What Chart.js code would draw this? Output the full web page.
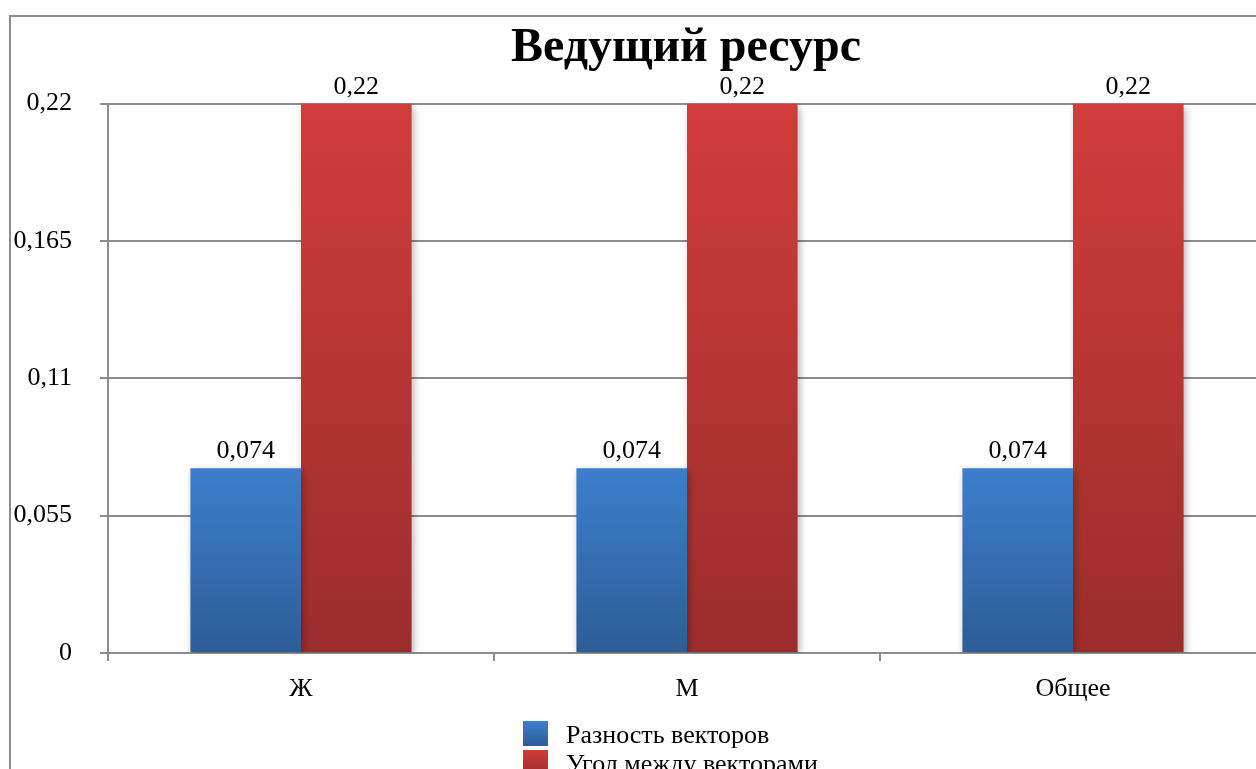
<!DOCTYPE html>
<html lang="ru">
<head>
<meta charset="utf-8">
<title>Ведущий ресурс</title>
<script src="https://cdn.jsdelivr.net/npm/chart.js@4/dist/chart.umd.min.js"></script>
<style>
  html, body { margin: 0; padding: 0; background: #fff; overflow: hidden; }
  #frame {
    position: absolute; left: 9px; top: 15px;
    border-left: 2px solid #8c8c8c; border-top: 2px solid #8c8c8c;
    width: 1350px; height: 800px;
  }
  canvas { display: block; }
</style>
</head>
<body>
<div id="frame"><canvas id="chart" width="1350" height="800"></canvas></div>
<script>
// Categories and series
const categories = ['Ж', 'М', 'Общее'];
const seriesNames = ['Разность векторов', 'Угол между векторами'];
const differenceValues = [0.074, 0.074, 0.074];
const angleValues = [0.22, 0.22, 0.22];
const yTickValues = [0, 0.055, 0.11, 0.165, 0.22];
const yTickLabels = ['0', '0,055', '0,11', '0,165', '0,22'];

const FONT = "'Liberation Serif', 'Times New Roman', serif";
const GRID = '#8c8c8c';

// Vertical gradient stops for each series (top, bottom)
const palettes = [
  ['#3c7fcd', '#2d5d96'],
  ['#d03d3a', '#9a2d2c']
];

function barGradient(ctx, index) {
  const chart = ctx.chart;
  const y = chart.scales.y;
  if (!y || !chart.chartArea || ctx.type !== 'data') return palettes[index][0];
  const top = y.getPixelForValue(ctx.raw);
  const bottom = y.getPixelForValue(0);
  if (!isFinite(top) || !isFinite(bottom) || top === bottom) return palettes[index][0];
  const g = chart.ctx.createLinearGradient(0, top, 0, bottom);
  g.addColorStop(0, palettes[index][0]);
  g.addColorStop(1, palettes[index][1]);
  return g;
}

const fmt = v => String(v).replace('.', ',');

// Soft drop shadow under the bars
const barShadow = {
  id: 'barShadow',
  beforeDatasetsDraw(chart) {
    const c = chart.ctx;
    c.save();
    c.shadowColor = 'rgba(0,0,0,0.28)';
    c.shadowBlur = 7;
    c.shadowOffsetX = 2;
    c.shadowOffsetY = 3;
  },
  afterDatasetsDraw(chart) {
    chart.ctx.restore();
  }
};

// Value captions above every bar
const valueLabels = {
  id: 'valueLabels',
  afterDatasetsDraw(chart) {
    const c = chart.ctx;
    c.save();
    c.shadowColor = 'transparent';
    c.font = '26px ' + FONT;
    c.fillStyle = '#000';
    c.textAlign = 'center';
    c.textBaseline = 'alphabetic';
    chart.data.datasets.forEach((ds, i) => {
      chart.getDatasetMeta(i).data.forEach((bar, j) => {
        c.fillText(fmt(ds.data[j]), bar.x, bar.y - 10);
      });
    });
    c.restore();
  }
};

// Stacked legend under the category axis
const stackedLegend = {
  id: 'stackedLegend',
  afterDraw(chart) {
    const c = chart.ctx;
    const area = chart.chartArea;
    const left = 512;
    const top0 = area.bottom + 68;
    const rowH = 29;
    const box = 25;
    c.save();
    c.font = '26px ' + FONT;
    c.textBaseline = 'alphabetic';
    chart.data.datasets.forEach((ds, i) => {
      const t = top0 + i * rowH;
      const g = c.createLinearGradient(0, t, 0, t + box);
      g.addColorStop(0, palettes[i][0]);
      g.addColorStop(1, palettes[i][1]);
      c.fillStyle = g;
      c.fillRect(left, t, box, box);
      c.fillStyle = '#000';
      c.fillText(ds.label, left + 43, t + 22);
    });
    c.restore();
  }
};

new Chart(document.getElementById('chart'), {
  type: 'bar',
  data: {
    labels: categories,
    datasets: [
      {
        label: seriesNames[0],
        data: differenceValues,
        backgroundColor: ctx => barGradient(ctx, 0),
        borderWidth: 0
      },
      {
        label: seriesNames[1],
        data: angleValues,
        backgroundColor: ctx => barGradient(ctx, 1),
        borderWidth: 0
      }
    ]
  },
  options: {
    responsive: false,
    animation: false,
    devicePixelRatio: 1,
    categoryPercentage: 0.573,
    barPercentage: 1,
    layout: { padding: { left: 0, right: 0, top: 0, bottom: 104 } },
    plugins: {
      legend: { display: false },
      tooltip: { enabled: false },
      title: {
        display: true,
        text: 'Ведущий ресурс',
        color: '#000',
        font: { family: FONT, size: 48, weight: 'bold', lineHeight: 1.2 },
        padding: { top: 3, bottom: 26 }
      }
    },
    scales: {
      x: {
        grid: {
          offset: true,
          drawOnChartArea: false,
          drawTicks: true,
          tickLength: 8,
          color: GRID,
          lineWidth: 2
        },
        border: { display: true, color: GRID, width: 2 },
        ticks: {
          color: '#000',
          font: { family: FONT, size: 26 },
          padding: 13,
          maxRotation: 0
        },
        afterFit(scale) { scale.height = 60; }
      },
      y: {
        min: 0,
        max: 0.22,
        grid: {
          drawOnChartArea: true,
          drawTicks: true,
          tickLength: 8,
          color: GRID,
          lineWidth: 2
        },
        border: { display: true, color: GRID, width: 2 },
        afterBuildTicks(scale) {
          scale.ticks = yTickValues.map(v => ({ value: v }));
        },
        ticks: {
          color: '#000',
          font: { family: FONT, size: 26 },
          padding: 28,
          callback: (value, index) => yTickLabels[index]
        },
        afterFit(scale) { scale.width = 97; }
      },
      // empty right-hand margin strip, keeps the plot area off the right edge
      yRight: {
        position: 'right',
        min: 0,
        max: 0.22,
        grid: { display: false },
        border: { display: false },
        ticks: { display: false },
        afterFit(scale) { scale.width = 95; }
      }
    }
  },
  plugins: [barShadow, valueLabels, stackedLegend]
});
</script>
</body>
</html>
